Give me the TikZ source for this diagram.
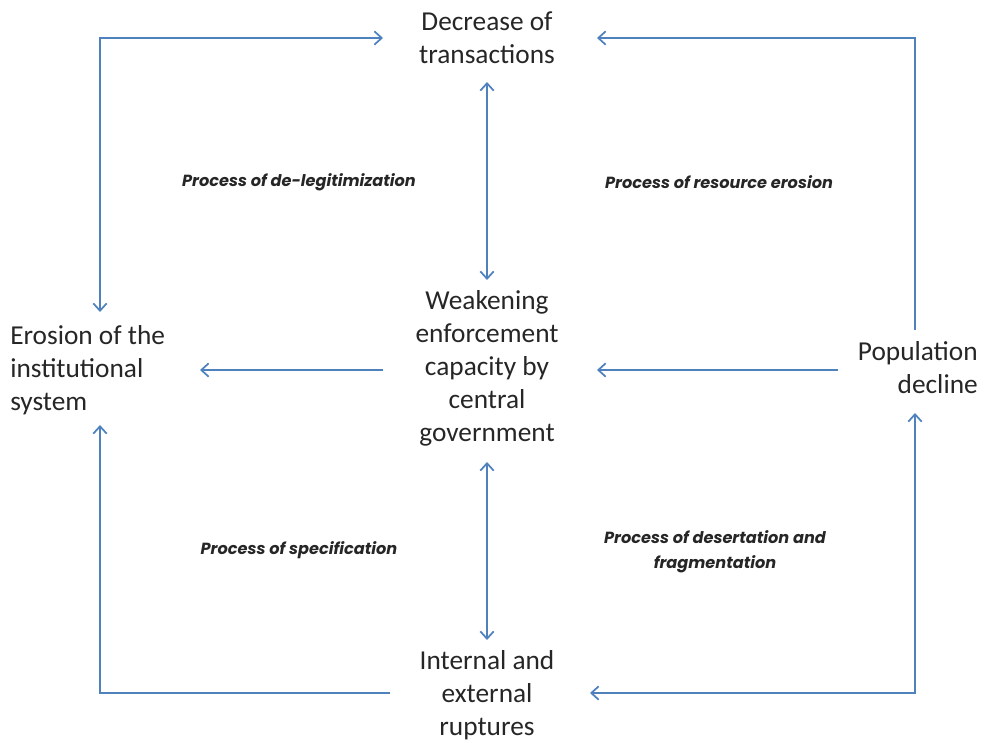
\documentclass[tikz,border=0pt]{standalone}
\usepackage{fontspec}
\setmainfont{Carlito}
\newfontfamily\procfont{Poppins}
\usetikzlibrary{arrows.meta}
\definecolor{flowblue}{HTML}{4F81BD}
\tikzset{
  stage/.style={font=\fontsize{20.5}{24.75}\selectfont, align=center, inner sep=0pt, text=black!85},
  proc/.style={font=\procfont\itshape\bfseries\fontsize{12.1}{18.75}\selectfont, align=center, inner sep=0pt, text=black!85},
  flow/.style={draw=flowblue, line width=1.5pt, arrows={-Straight Barb[length=5.5pt,width=10pt,line width=1.3pt]}},
  flowboth/.style={flow, arrows={Straight Barb[length=5.5pt,width=10pt,line width=1.3pt]-Straight Barb[length=5.5pt,width=10pt,line width=1.3pt]}},
}
\begin{document}
\begin{tikzpicture}[x=0.75pt,y=-0.75pt]
\useasboundingbox (0,0) rectangle (984,742);

% stages of the cycle
\node[stage] (dec) at (487,38) {Decrease of\\transactions};
\node[stage] (weak) at (487,368) {Weakening\\enforcement\\capacity by\\central\\government};
\node[stage, align=left, anchor=west] (ero) at (10,370) {Erosion of the\\institutional\\system};
\node[stage, align=right, anchor=east] (pop) at (978,368) {Population\\decline};
\node[stage] (rup) at (487,695) {Internal and\\external\\ruptures};

% the four processes
\node[proc] (p1) at (299,182) {Process of de-legitimization};
\node[proc] (p2) at (719,182) {Process of resource erosion};
\node[proc] (p3) at (299,550) {Process of specification};
\node[proc] (p4) at (715,552) {Process of desertation and\\fragmentation};

% arrow end points around the stages
\coordinate (decW) at (383,38);
\coordinate (decE) at (597,38);
\coordinate (decS) at (487,82);
\coordinate (weakN) at (487,280);
\coordinate (weakS) at (487,462);
\coordinate (weakW) at (383,370);
\coordinate (weakE) at (597,370);
\coordinate (eroN) at (100,312);
\coordinate (eroS) at (100,425);
\coordinate (eroE) at (200,370);
\coordinate (popW) at (838,370);
\coordinate (popN) at (915,330);
\coordinate (popS) at (915,413);
\coordinate (rupN) at (487,640);
\coordinate (rupW) at (390,693);
\coordinate (rupE) at (590,693);

% outer loops
\draw[flowboth] (eroN) |- (decW);
\draw[flow] (popN) |- (decE);
\draw[flowboth] (popS) |- (rupE);
\draw[flow] (rupW) -| (eroS);

% inner links
\draw[flowboth] (decS) -- (weakN);
\draw[flowboth] (weakS) -- (rupN);
\draw[flow] (weakW) -- (eroE);
\draw[flow] (popW) -- (weakE);
\end{tikzpicture}
\end{document}
